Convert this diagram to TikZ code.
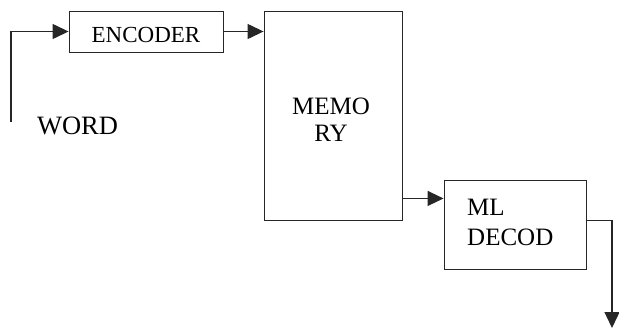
\documentclass[tikz,border=0pt]{standalone}
\usepackage{fontspec}
\setmainfont{Liberation Serif}
\usetikzlibrary{arrows.meta,calc}
\begin{document}
\begin{tikzpicture}[x=1pt,y=-1pt,
  blk/.style={draw=black!85,line width=0.9pt,inner sep=0pt,fill=white},
  arr/.style={draw=black!85,line width=1.3pt,-{Triangle[length=16pt,width=15pt]}},
  lbl/.style={inner sep=0pt,text=black}]
\useasboundingbox (0,0) rectangle (619,329);
\node[blk,minimum width=154pt,minimum height=41pt] (enc) at (146,31.5) {};
\node[blk,minimum width=138pt,minimum height=209pt] (mem) at (333,115.5) {};
\node[blk,minimum width=142pt,minimum height=89pt] (ml) at (515,224.5) {};
\node[lbl,font=\fontsize{23}{27}\selectfont] (enct) at (146,34.5) {ENCODER};
\node[lbl,font=\fontsize{26.5}{30}\selectfont] (word) at (77.5,126) {WORD};
\node[lbl,align=center,font=\fontsize{25}{28}\selectfont,anchor=base] (memt) at (331,142) {MEMO\\RY};
\node[lbl,align=left,font=\fontsize{25}{30}\selectfont,anchor=base west] (mlt) at (467,245) {ML\\DECOD};
\coordinate (in) at (11,122);
\draw[arr] (in) |- (enc.west);
\draw[arr] (enc.east) -- (enc.east -| mem.west);
\path (mem.south east) ++(0,-22) coordinate (m1);
\draw[arr] (m1) -- (m1 -| ml.west);
\path (ml.east) ++(0,-4) coordinate (o1);
\coordinate (out) at (612,328);
\draw[arr] (o1) -| (out);
\end{tikzpicture}
\end{document}
